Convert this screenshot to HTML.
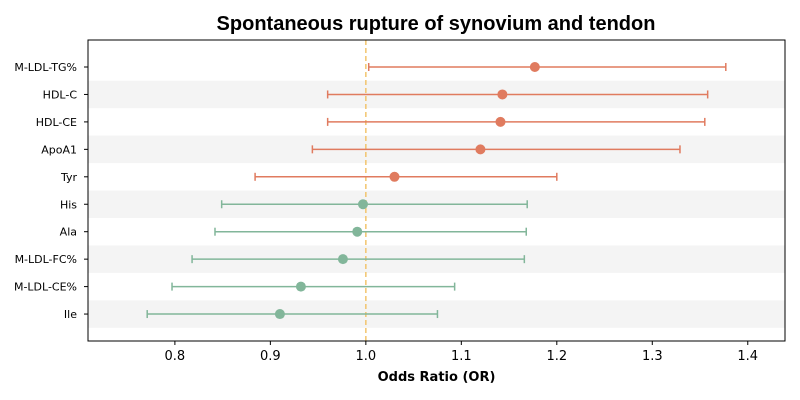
<!DOCTYPE html>
<html><head><meta charset="utf-8"><style>
body{margin:0;background:#fff;width:800px;height:400px;overflow:hidden}
svg{display:block;font-family:"DejaVu Sans","Liberation Sans",sans-serif}
</style></head><body>
<svg id="chart" width="800" height="400">
<text x="436" y="30" text-anchor="middle" font-size="20" font-weight="bold" font-family="Liberation Sans, sans-serif">Spontaneous rupture of synovium and tendon</text>
<g id="plot"></g>
</svg>
<script>
const labels=["M-LDL-TG%","HDL-C","HDL-CE","ApoA1","Tyr","His","Ala","M-LDL-FC%","M-LDL-CE%","Ile"];
const estimates=[1.177,1.143,1.141,1.120,1.030,0.997,0.991,0.976,0.932,0.910];
const lower=[1.003,0.960,0.960,0.944,0.884,0.849,0.842,0.818,0.797,0.771];
const upper=[1.377,1.358,1.355,1.329,1.200,1.169,1.168,1.166,1.093,1.075];
const xTicks=[0.8,0.9,1.0,1.1,1.2,1.3,1.4];
const NS="http://www.w3.org/2000/svg";
const L=88,R=785,T=40,B=341,x0=0.709,x1=1.439;
const xs=v=>L+(v-x0)/(x1-x0)*(R-L);
const rowStep=27.45,rowTop=67;
const ys=i=>rowTop+i*rowStep;
const g=document.getElementById('plot');
function mk(t,a){const e=document.createElementNS(NS,t);for(const k in a)e.setAttribute(k,a[k]);g.appendChild(e);return e;}
labels.forEach((l,i)=>{if(i%2===1){const r=mk('rect',{x:L,y:ys(i)-rowStep/2,width:R-L,height:rowStep,fill:'#f4f4f4'});

}});
const ref=mk('line',{x1:xs(1),x2:xs(1),y1:T,y2:B,stroke:'#F2C46D','stroke-width':1.5,'stroke-dasharray':'5,3'});


labels.forEach((l,i)=>{
 const c=estimates[i]>1?'#E07B5F':'#82B69A';const y=ys(i);
 const ln=mk('line',{x1:xs(lower[i]),x2:xs(upper[i]),y1:y,y2:y,stroke:c,'stroke-width':1.5});
 
 
 [lower[i],upper[i]].forEach(v=>{const cap=mk('line',{x1:xs(v),x2:xs(v),y1:y-4,y2:y+4,stroke:c,'stroke-width':1.5});
 
 });
 const p=mk('circle',{cx:xs(estimates[i]),cy:y,r:5,fill:c});
 
 
 const t=mk('text',{x:L-11,y:y+4,'text-anchor':'end','font-size':11,fill:'#000'});t.textContent=l;
 
 
 const tk=mk('line',{x1:L-4,x2:L,y1:y,y2:y,stroke:'#000'});
 
 
});
xTicks.forEach(v=>{const x=xs(v);
 const tk=mk('line',{x1:x,x2:x,y1:B,y2:B+4,stroke:'#000'});
 
 
 const t=mk('text',{x:x,y:B+19,'text-anchor':'middle','font-size':13});t.textContent=v.toFixed(1);
 
 });
const fr=mk('rect',{x:L,y:T,width:R-L,height:B-T,fill:'none',stroke:'#000','stroke-width':1});


const xl=mk('text',{x:(L+R)/2,y:381,'text-anchor':'middle','font-size':13,'font-weight':'bold'});xl.textContent='Odds Ratio (OR)';


</script>
</body></html>
